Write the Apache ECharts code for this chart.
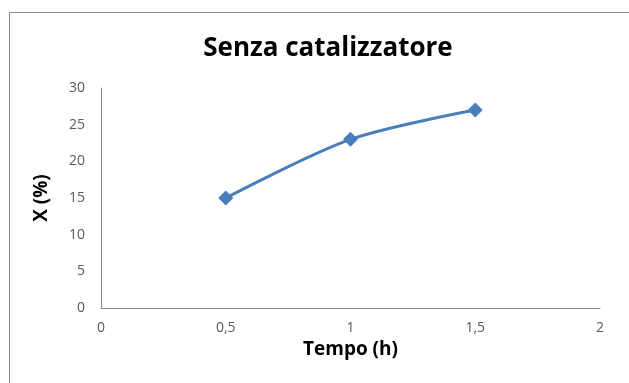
<!DOCTYPE html>
<html>
<head>
<meta charset="utf-8">
<script src="https://cdn.jsdelivr.net/npm/echarts@6/dist/echarts.min.js"></script>
<style>
  html, body { margin: 0; padding: 0; background: #fff; }
  #chart { width: 629px; height: 383px; }
</style>
</head>
<body>
<div id="chart"></div>
<script>
// Conversione X (%) in funzione del tempo di reazione
const tempo = [0.5, 1, 1.5];
const conversione = [15, 23, 27];
const xTicks = [0, 0.5, 1, 1.5, 2];
const yTicks = [0, 5, 10, 15, 20, 25, 30];

const fmtComma = v => String(v).replace('.', ',');

const chart = echarts.init(document.getElementById('chart'), null, { renderer: 'canvas' });
chart.setOption({
  animation: false,
  backgroundColor: '#fff',
  graphic: [{
    type: 'rect',
    shape: { x: 9.5, y: 12.5, width: 700, height: 500 },
    style: { fill: 'none', stroke: '#8c8c8c', lineWidth: 1 },
    silent: true
  }],
  title: {
    text: 'Senza catalizzatore',
    left: 323, top: 31, textAlign: 'center',
    textStyle: { fontFamily: 'Open Sans', fontWeight: 'bold', fontSize: 26, color: '#000' }
  },
  grid: { left: 101, right: 29, top: 88, bottom: 75, containLabel: false },
  xAxis: {
    type: 'value',
    min: xTicks[0], max: xTicks[xTicks.length - 1], interval: 0.5,
    name: 'Tempo (h)', nameLocation: 'middle', nameGap: 31,
    nameTextStyle: { fontFamily: 'Open Sans', fontWeight: 'bold', fontSize: 19, color: '#000' },
    axisLine: { show: true, lineStyle: { color: '#888', width: 1 } },
    axisTick: { show: false },
    splitLine: { show: false },
    axisLabel: { color: '#595959', fontFamily: 'Open Sans', fontSize: 14, margin: 13, formatter: fmtComma }
  },
  yAxis: {
    type: 'value',
    min: yTicks[0], max: yTicks[yTicks.length - 1], interval: 5,
    name: 'X (%)', nameLocation: 'middle', nameGap: 50, nameRotate: 90,
    nameTextStyle: { fontFamily: 'Open Sans', fontWeight: 'bold', fontSize: 19, color: '#000' },
    axisLine: { show: true, lineStyle: { color: '#888', width: 1 } },
    axisTick: { show: false },
    splitLine: { show: false },
    axisLabel: { color: '#595959', fontFamily: 'Open Sans', fontSize: 14, margin: 16 }
  },
  series: [{
    type: 'line',
    data: tempo.map((t, i) => [t, conversione[i]]),
    smooth: 0.3,
    symbol: 'diamond',
    symbolSize: 15,
    lineStyle: { color: '#4A7EBB', width: 3 },
    itemStyle: { color: '#4A7EBB' }
  }]
});
</script>
</body>
</html>
